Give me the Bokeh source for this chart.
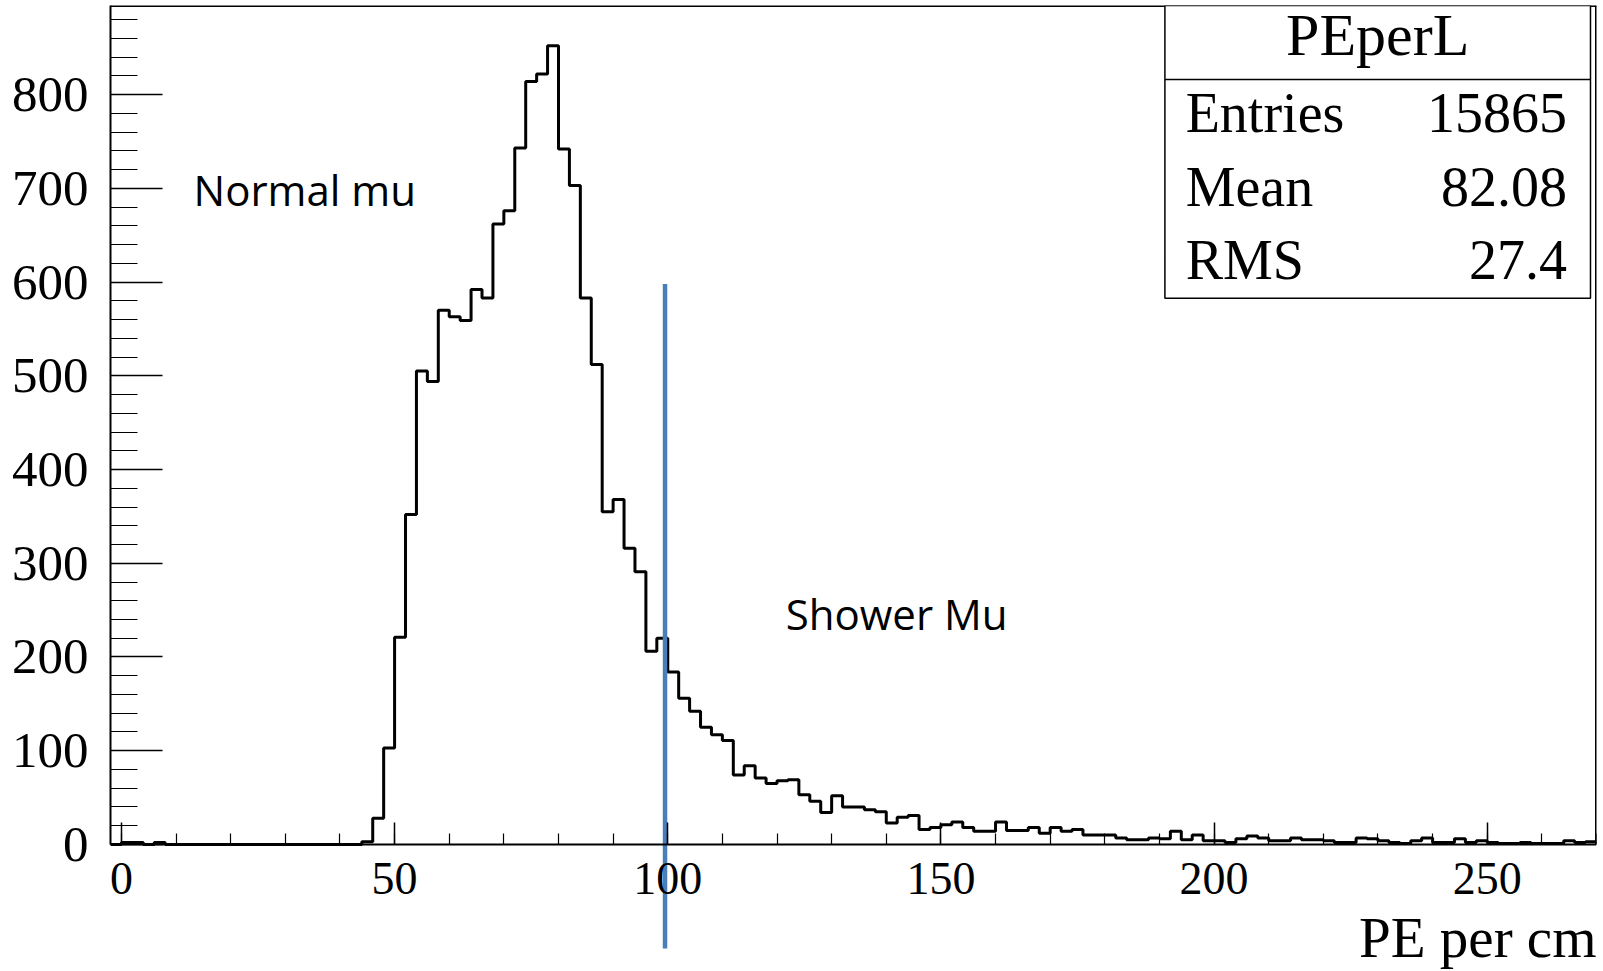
import numpy as np
from bokeh.plotting import figure
from bokeh.models import Range1d, SingleIntervalTicker, Label
from bokeh.embed import file_html
from bokeh.resources import INLINE

# ---------------- data ----------------
BIN_LOW = -2.0
BIN_WIDTH = 2.0
# counts per 2-unit bin, starting at x = -2
COUNTS = [
    0, 2, 2, 0, 2, 0, 0, 0, 0, 0, 0, 0, 0, 0, 0, 0, 0, 0, 0, 0, 0, 0, 0,
    3, 28, 103, 221, 352, 505, 494, 570, 563, 559, 592, 583, 662, 676, 743,
    814, 822, 852, 742, 703, 583, 512, 355, 368, 316, 291, 206, 220, 184,
    156, 142, 125, 117, 111,
    74, 84, 71, 65, 68, 69, 53, 46, 34, 52,
    40, 40, 37, 35, 23, 29, 31, 16, 18, 21,
    24, 18, 14, 14, 24, 15, 15, 18, 12, 18,
    14, 16, 10, 10, 10, 7, 5, 5, 7, 6,
    14, 5, 10, 4, 4, 2, 6, 9, 7, 4,
    4, 7, 5, 5, 4, 2, 2, 7, 6, 4,
    2, 1, 4, 7, 2, 2, 6, 2, 4, 2,
    1, 1, 2, 1, 1, 1, 4, 2, 3,
]
X_MIN, X_MAX = -2, 270
Y_TOP = 895           # top of the histogram frame
Y_BOTTOM = -135.5     # canvas extends below the x axis (room for labels / cut line)
X_TICK_INTERVAL = 50
Y_TICK_INTERVAL = 100

STATS_TITLE = "PEperL"
STATS_NAMES = ["Entries", "Mean", "RMS"]
STATS_VALUES = ["15865", "82.08", "27.4"]
X_TITLE = "PE per cm"
ANNOT_TEXTS = ["Normal mu", "Shower Mu"]
CUT_X = 99.5
CUT_Y_TOP = 598
CUT_Y_BOTTOM = -111

# ---------------- figure ----------------
p = figure(frame_width=1486, frame_height=966,
           x_range=Range1d(X_MIN, X_MAX), y_range=Range1d(Y_BOTTOM, Y_TOP),
           output_backend="svg", toolbar_location=None,
           min_border_left=110, min_border_right=7, min_border_top=5, min_border_bottom=0)
p.xgrid.visible = False
p.ygrid.visible = False
p.background_fill_color = "white"
p.border_fill_color = "white"
p.outline_line_color = None

SERIF = "Liberation Serif"

xa = p.xaxis[0]
xa.fixed_location = 0
xa.ticker = SingleIntervalTicker(interval=X_TICK_INTERVAL, num_minor_ticks=5)
xa.major_tick_in = 22
xa.major_tick_out = 0
xa.minor_tick_in = 11
xa.minor_tick_out = 0
xa.axis_line_width = 2
xa.axis_line_color = "black"
xa.major_tick_line_color = "black"
xa.minor_tick_line_color = "black"
xa.major_tick_line_width = 1.5
xa.minor_tick_line_width = 1.2
xa.major_label_text_font = SERIF
xa.major_label_text_font_size = "46px"
xa.major_label_text_color = "black"
xa.major_label_standoff = 19

ya = p.yaxis[0]
ya.bounds = (0, Y_TOP)
ya.ticker = SingleIntervalTicker(interval=Y_TICK_INTERVAL, num_minor_ticks=5)
ya.major_tick_in = 52
ya.major_tick_out = 0
ya.minor_tick_in = 27
ya.minor_tick_out = 0
ya.axis_line_width = 2
ya.axis_line_color = "black"
ya.major_tick_line_color = "black"
ya.minor_tick_line_color = "black"
ya.major_tick_line_width = 1.5
ya.minor_tick_line_width = 1.2
ya.major_label_text_font = SERIF
ya.major_label_text_font_size = "51px"
ya.major_label_text_color = "black"
ya.major_label_standoff = 22

# frame top and right edges
p.segment(x0=[X_MIN, X_MAX], y0=[Y_TOP, 0], x1=[X_MAX, X_MAX], y1=[Y_TOP, Y_TOP],
          line_color="black", line_width=3)

# ---------------- histogram ----------------
counts = np.array(COUNTS, dtype=float)
edges = BIN_LOW + BIN_WIDTH * np.arange(len(counts) + 1)
p.step(x=edges, y=np.append(counts, counts[-1]), mode="after",
       line_color="black", line_width=3)

# ---------------- stats box ----------------
BOX_L, BOX_R, BOX_B, BOX_SEP = 191.0, 268.9, 582.6, 816.1
p.quad(left=[BOX_L], right=[BOX_R], bottom=[BOX_B], top=[Y_TOP],
       fill_color="white", line_color="black", line_width=1.5)
p.segment(x0=[BOX_L], x1=[BOX_R], y0=[BOX_SEP], y1=[BOX_SEP], line_color="black", line_width=1.5)

p.add_layout(Label(x=(BOX_L + BOX_R) / 2, y=863.5, text=STATS_TITLE, text_font=SERIF,
                   text_font_size="60px", text_align="center", text_baseline="alphabetic",
                   text_color="black"))
row_y = [780.2, 701.9, 623.6]
for name, val, yy in zip(STATS_NAMES, STATS_VALUES, row_y):
    p.add_layout(Label(x=194.8, y=yy, text=name, text_font=SERIF, text_font_size="56px",
                       text_align="left", text_baseline="alphabetic", text_color="black"))
    p.add_layout(Label(x=264.6, y=yy, text=val, text_font=SERIF, text_font_size="56px",
                       text_align="right", text_baseline="alphabetic", text_color="black"))

# ---------------- annotations ----------------
p.add_layout(Label(x=13.2, y=698.6, text=ANNOT_TEXTS[0], text_font="Open Sans",
                   text_font_size="42px", text_align="left", text_baseline="alphabetic",
                   text_color="black"))
p.add_layout(Label(x=121.6, y=246, text=ANNOT_TEXTS[1], text_font="Open Sans",
                   text_font_size="42px", text_align="left", text_baseline="alphabetic",
                   text_color="black"))

p.segment(x0=[CUT_X], y0=[CUT_Y_TOP], x1=[CUT_X], y1=[CUT_Y_BOTTOM],
          line_color="#4A7EBB", line_width=4.5)

p.add_layout(Label(x=X_MAX, y=-99, text=X_TITLE, text_font=SERIF, text_font_size="57px",
                   text_align="right", text_baseline="alphabetic", text_color="black"))

open("out.html", "w").write(file_html(p, INLINE))
